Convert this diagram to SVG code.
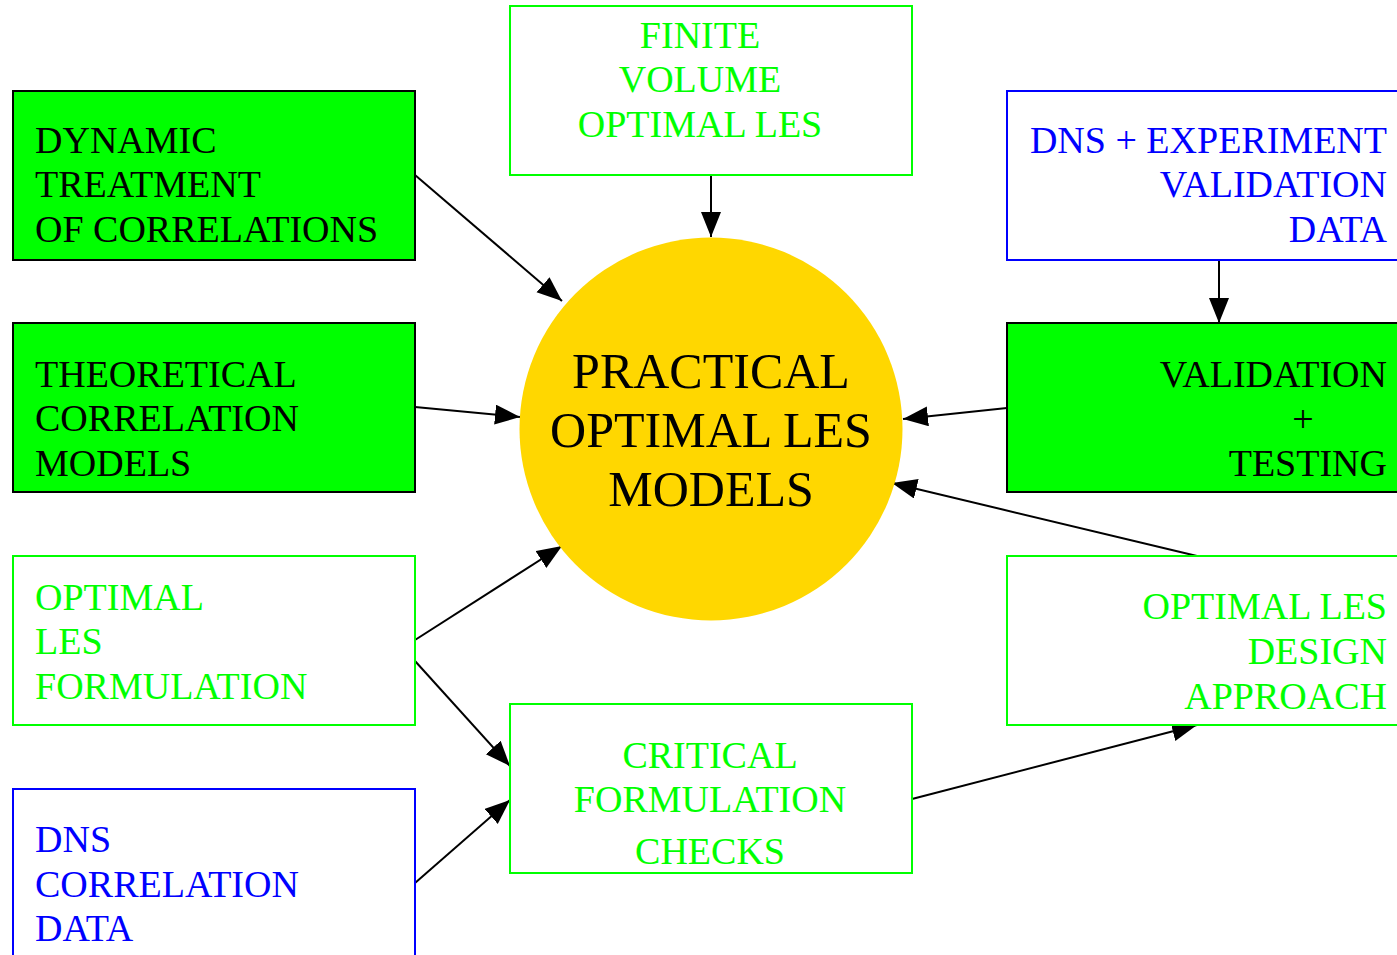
<svg xmlns="http://www.w3.org/2000/svg" width="1397" height="955" viewBox="0 0 1397 955">
<style>
.box{stroke-width:2}
.gf{fill:#00ff00;stroke:#000}
.gs{fill:#fff;stroke:#00ff00}
.bs{fill:#fff;stroke:#0000ff}
text{font-family:"Liberation Serif","Times New Roman",serif;font-size:38px}
.tk{fill:#000}
.tg{fill:#00ff00}
.tb{fill:#0000ff}
.big{font-size:50px;fill:#000}
.edge{stroke:#000;stroke-width:2;fill:none;marker-end:url(#ah)}
</style>
<defs>
<marker id="ah" markerUnits="userSpaceOnUse" markerWidth="26" markerHeight="22" refX="25" refY="10" orient="auto">
<path d="M0,0 L25,10 L0,20 z" fill="#000"/>
</marker>
</defs>
<rect width="1397" height="955" fill="#fff"/>
<g id="connectors">
<line class="edge" x1="415" y1="175" x2="562" y2="301"/>
<line class="edge" x1="711" y1="175" x2="711" y2="237"/>
<line class="edge" x1="415" y1="407" x2="520" y2="417"/>
<line class="edge" x1="415" y1="640" x2="562" y2="546"/>
<line class="edge" x1="415" y1="661" x2="510" y2="766"/>
<line class="edge" x1="415" y1="883" x2="510" y2="800"/>
<line class="edge" x1="912" y1="799" x2="1197" y2="725"/>
<line class="edge" x1="1197" y1="556" x2="892" y2="483"/>
<line class="edge" x1="1007" y1="408" x2="903" y2="419"/>
<line class="edge" x1="1219" y1="260" x2="1219" y2="323"/>
</g>
<g id="center">
<circle cx="711" cy="429" r="191.5" fill="#ffd700"/>
<text class="big" x="711" y="388" text-anchor="middle">PRACTICAL</text>
<text class="big" x="711" y="447" text-anchor="middle">OPTIMAL LES</text>
<text class="big" x="711" y="506" text-anchor="middle">MODELS</text>
</g>
<g id="dynamic">
<rect class="box gf" x="13" y="91" width="402" height="169"/>
<text class="tk" x="35" y="153">DYNAMIC</text>
<text class="tk" x="35" y="197">TREATMENT</text>
<text class="tk" x="35" y="242">OF CORRELATIONS</text>
</g>
<g id="theoretical">
<rect class="box gf" x="13" y="323" width="402" height="169"/>
<text class="tk" x="35" y="387">THEORETICAL</text>
<text class="tk" x="35" y="431">CORRELATION</text>
<text class="tk" x="35" y="476">MODELS</text>
</g>
<g id="formulation">
<rect class="box gs" x="13" y="556" width="402" height="169"/>
<text class="tg" x="35" y="610">OPTIMAL</text>
<text class="tg" x="35" y="654">LES</text>
<text class="tg" x="35" y="699">FORMULATION</text>
</g>
<g id="dnscorr">
<rect class="box bs" x="13" y="789" width="402" height="180"/>
<text class="tb" x="35" y="852">DNS</text>
<text class="tb" x="35" y="897">CORRELATION</text>
<text class="tb" x="35" y="941">DATA</text>
</g>
<g id="finite">
<rect class="box gs" x="510" y="6" width="402" height="169"/>
<text class="tg" x="700" y="48" text-anchor="middle">FINITE</text>
<text class="tg" x="700" y="92" text-anchor="middle">VOLUME</text>
<text class="tg" x="700" y="137" text-anchor="middle">OPTIMAL LES</text>
</g>
<g id="critical">
<rect class="box gs" x="510" y="704" width="402" height="169"/>
<text class="tg" x="710" y="768" text-anchor="middle">CRITICAL</text>
<text class="tg" x="710" y="812" text-anchor="middle">FORMULATION</text>
<text class="tg" x="710" y="864" text-anchor="middle">CHECKS</text>
</g>
<g id="dnsexp">
<rect class="box bs" x="1007" y="91" width="402" height="169"/>
<text class="tb" x="1387" y="153" text-anchor="end">DNS + EXPERIMENT</text>
<text class="tb" x="1387" y="197" text-anchor="end">VALIDATION</text>
<text class="tb" x="1387" y="242" text-anchor="end">DATA</text>
</g>
<g id="validation">
<rect class="box gf" x="1007" y="323" width="402" height="169"/>
<text class="tk" x="1387" y="387" text-anchor="end">VALIDATION</text>
<text class="tk" x="1303" y="432" text-anchor="middle">+</text>
<text class="tk" x="1387" y="476" text-anchor="end">TESTING</text>
</g>
<g id="design">
<rect class="box gs" x="1007" y="556" width="402" height="169"/>
<text class="tg" x="1387" y="619" text-anchor="end">OPTIMAL LES</text>
<text class="tg" x="1387" y="664" text-anchor="end">DESIGN</text>
<text class="tg" x="1387" y="709" text-anchor="end">APPROACH</text>
</g>
</svg>
